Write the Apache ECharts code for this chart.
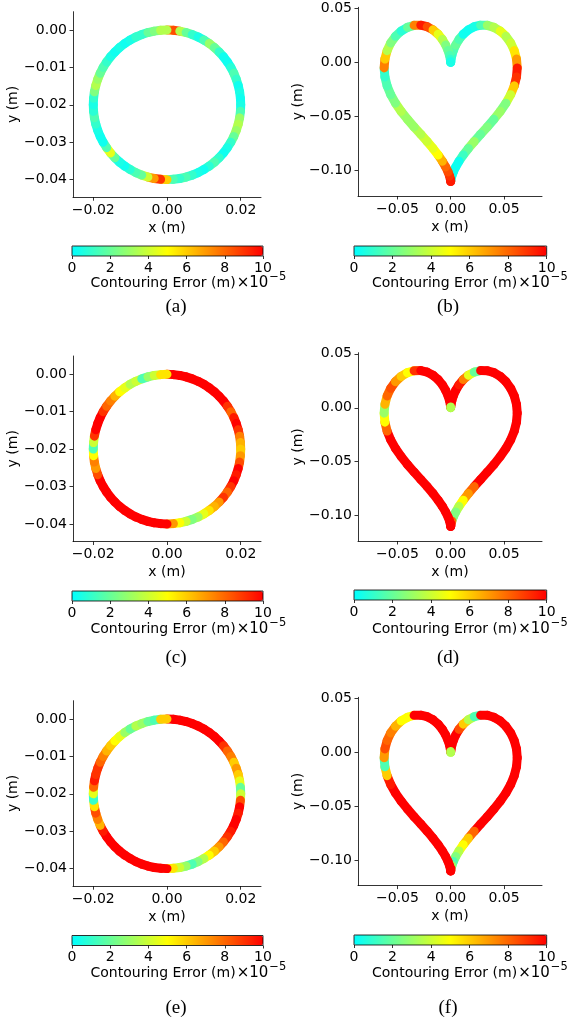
<!DOCTYPE html>
<html>
<head>
<meta charset="utf-8">
<script src="https://cdn.jsdelivr.net/npm/echarts@6/dist/echarts.min.js"></script>
<style>
html,body{margin:0;padding:0;background:#fff;}
#chart{width:573px;height:1023px;}
</style>
</head>
<body>
<div id="chart"></div>
<script>
// ---- trajectory data (m) ----
const circleX = [0, 0.00174, 0.00347, 0.00518, 0.00684, 0.00845, 0.01, 0.01147, 0.01286, 0.01414, 0.01532, 0.01638, 0.01732, 0.01813, 0.01879, 0.01932, 0.0197, 0.01992, 0.02,
  0.01992, 0.0197, 0.01932, 0.01879, 0.01813, 0.01732, 0.01638, 0.01532, 0.01414, 0.01286, 0.01147, 0.01, 0.00845, 0.00684, 0.00518, 0.00347, 0.00174, 0,
  -0.00174, -0.00347, -0.00518, -0.00684, -0.00845, -0.01, -0.01147, -0.01286, -0.01414, -0.01532, -0.01638, -0.01732, -0.01813, -0.01879, -0.01932, -0.0197, -0.01992, -0.02,
  -0.01992, -0.0197, -0.01932, -0.01879, -0.01813, -0.01732, -0.01638, -0.01532, -0.01414, -0.01286, -0.01147, -0.01, -0.00845, -0.00684, -0.00518, -0.00347, -0.00174];
const circleY = [0, -0.00008, -0.0003, -0.00068, -0.00121, -0.00187, -0.00268, -0.00362, -0.00468, -0.00586, -0.00714, -0.00853, -0.01, -0.01155, -0.01316, -0.01482, -0.01653, -0.01826, -0.02,
  -0.02174, -0.02347, -0.02518, -0.02684, -0.02845, -0.03, -0.03147, -0.03286, -0.03414, -0.03532, -0.03638, -0.03732, -0.03813, -0.03879, -0.03932, -0.0397, -0.03992, -0.04,
  -0.03992, -0.0397, -0.03932, -0.03879, -0.03813, -0.03732, -0.03638, -0.03532, -0.03414, -0.03286, -0.03147, -0.03, -0.02845, -0.02684, -0.02518, -0.02347, -0.02174, -0.02,
  -0.01826, -0.01653, -0.01482, -0.01316, -0.01155, -0.01, -0.00853, -0.00714, -0.00586, -0.00468, -0.00362, -0.00268, -0.00187, -0.00121, -0.00068, -0.0003, -0.00008];
const heartX = [0, 0.00004, 0.00033, 0.00108, 0.0025, 0.00471, 0.0078, 0.01178, 0.01657, 0.02206, 0.02805, 0.0343, 0.04053, 0.04645, 0.05178, 0.05623, 0.0596, 0.06169, 0.0624,
  0.06169, 0.0596, 0.05623, 0.05178, 0.04645, 0.04053, 0.0343, 0.02805, 0.02206, 0.01657, 0.01178, 0.0078, 0.00471, 0.0025, 0.00108, 0.00033, 0.00004, 0,
  -0.00004, -0.00033, -0.00108, -0.0025, -0.00471, -0.0078, -0.01178, -0.01657, -0.02206, -0.02805, -0.0343, -0.04053, -0.04645, -0.05178, -0.05623, -0.0596, -0.06169, -0.0624,
  -0.06169, -0.0596, -0.05623, -0.05178, -0.04645, -0.04053, -0.0343, -0.02805, -0.02206, -0.01657, -0.01178, -0.0078, -0.00471, -0.0025, -0.00108, -0.00033, -0.00004];
const heartY = [0, 0.00078, 0.00303, 0.00657, 0.01106, 0.01612, 0.02129, 0.02612, 0.03015, 0.03303, 0.03448, 0.03433, 0.0325, 0.02907, 0.02417, 0.01804, 0.01095, 0.00318, -0.005,
  -0.01334, -0.02162, -0.02974, -0.03761, -0.04519, -0.0525, -0.05957, -0.0664, -0.07303, -0.07943, -0.08556, -0.09129, -0.09652, -0.1011, -0.10487, -0.10768, -0.10942, -0.11,
  -0.10942, -0.10768, -0.10487, -0.1011, -0.09652, -0.09129, -0.08556, -0.07943, -0.07303, -0.0664, -0.05957, -0.0525, -0.04519, -0.03761, -0.02974, -0.02162, -0.01334, -0.005,
  0.00318, 0.01095, 0.01804, 0.02417, 0.02907, 0.0325, 0.03433, 0.03448, 0.03303, 0.03015, 0.02612, 0.02129, 0.01612, 0.01106, 0.00657, 0.00303, 0.00078];

// ---- contouring error (x1e-5 m) at each trajectory point ----
const errA = [7.5, 8.5, 3.5, 2, 1, 0.5, 1.5, 3, 2, 1,
  0.3, 0.3, 0.8, 1.5, 1, 0.3, 0.5, 0.3, 0.5, 1.5,
  3, 3.5, 3, 2, 1, 0.5, 0.3, 1, 1.5, 0.8,
  0.3, 0.5, 1, 1.5, 1, 1.5, 6, 9, 7, 4,
  2, 1.5, 0.8, 0.3, 0.5, 2, 4.5, 1.5, 0.3, 0.3,
  0.5, 1, 1.5, 0.8, 0.5, 1, 2.5, 3.5, 3, 2,
  1.5, 1, 0.5, 0.3, 0.5, 0.3, 0.5, 1, 1, 2,
  2.5, 3.5];
const errB = [0.3, 0.5, 0.5, 1, 1.5, 2, 1.5, 0.3, 0.3, 0.5,
  1.5, 3, 3.5, 4.5, 3.5, 4, 5.5, 7, 9.5, 9,
  6, 4, 2.5, 3, 2, 2.5, 2, 3, 2, 1.2,
  0.3, 0.3, 0.3, 0.3, 1, 9.5, 9.5, 9.5, 9.5, 9,
  8.5, 8, 6.5, 5, 4.5, 4, 3.5, 3, 3, 3.5,
  2.5, 2, 1.5, 1, 7.5, 6, 3.5, 2.5, 1.5, 0.8,
  2, 7.5, 9.5, 8.5, 6, 4.5, 3.5, 2.5, 2, 1.5,
  1, 0.5];
const errC = [10, 10, 10, 10, 10, 10, 10, 10, 10, 10,
  10, 9, 8, 9.5, 10, 9, 7.5, 6.5, 6, 7,
  8.5, 10, 9.5, 10, 9, 8, 9, 7, 6.5, 5.5,
  4.5, 3, 2.5, 4, 5, 7, 10, 10, 10, 10,
  10, 10, 10, 10, 10, 10, 10, 10, 10, 10,
  8.5, 7, 7.5, 5, 1.5, 4, 9, 10, 10, 10,
  9, 8, 7.5, 6.5, 5, 4.5, 3.5, 4, 1.5, 3,
  4, 5.5];
const errD = [3.5, 10, 10, 10, 10, 10, 9.5, 7.5, 4.5, 2,
  10, 10, 10, 10, 10, 10, 10, 10, 10, 10,
  10, 10, 10, 10, 10, 10, 10, 8, 7, 5,
  3.5, 2.5, 2.5, 8, 10, 10, 10, 10, 10, 10,
  10, 10, 10, 10, 10, 10, 10, 10, 10, 10,
  10, 10, 8, 5, 3, 6.5, 8, 8.5, 7, 6,
  5, 9, 10, 10, 10, 10, 10, 10, 10, 10,
  10, 3.5];
const errE = [10, 10, 10, 10, 10, 10, 10, 10, 10, 10,
  9, 8, 7.5, 6, 7, 6, 4.5, 2, 4, 8.5,
  10, 9.5, 10, 10, 9.5, 9, 8, 7, 6, 5,
  3.5, 2.5, 1.5, 3, 4, 5.5, 10, 10, 10, 10,
  10, 10, 10, 10, 10, 10, 10, 10, 9.5, 6.5,
  7.5, 8.5, 5.5, 1, 4.5, 8, 9.5, 9, 9, 8,
  7.5, 6.5, 6, 5, 4.5, 3, 2, 3.5, 3, 2,
  1.5, 6];
const errF = [3.5, 10, 10, 10, 10, 10, 8.5, 6, 3.5, 1.5,
  10, 10, 10, 10, 10, 10, 10, 10, 10, 10,
  10, 10, 10, 10, 10, 10, 10, 8, 6, 5,
  3.5, 2.5, 1.5, 3, 10, 10, 10, 10, 10, 10,
  10, 10, 10, 10, 10, 10, 10, 10, 10, 10,
  10, 9.5, 6, 1.5, 7, 8.5, 8, 7.5, 6.5, 5,
  5, 10, 10, 10, 10, 10, 10, 10, 10, 10,
  10, 3.5];

// ---- tick labels and texts ----
const circleXTicks = [-0.02, 0, 0.02];
const circleYTicks = [0, -0.01, -0.02, -0.03, -0.04];
const heartXTicks = [-0.05, 0, 0.05];
const heartYTicks = [0.05, 0, -0.05, -0.1];
const cbarMin = 0, cbarMax = 10, cbarStep = 2;
const captions = ['(a)', '(b)', '(c)', '(d)', '(e)', '(f)'];
const cbarName = 'Contouring Error (m)';
const cbarScale = '\u00d710';
const cbarExp = '\u22125';
const colormap = ['#00ffff', '#ffff00', '#ff0000'];

// ---- layout ----
const FONT = 'DejaVu Sans';
const circleRange = {x: [-0.0255, 0.0255], y: [-0.0447, 0.0049]};
const heartRange = {x: [-0.0869, 0.0856], y: [-0.1234, 0.051]};
const panels = [
  {shape: 'circle', err: errA, plot: {left: 73, top: 11.7, width: 188, height: 185.5}, cbar: {left: 72, top: 246, width: 191}, lab: {x: 90.5, y: 283}, cap: {x: 176, y: 307}},
  {shape: 'heart', err: errB, plot: {left: 358, top: 7.3, width: 184, height: 188.7}, cbar: {left: 354, top: 246, width: 192.7}, lab: {x: 372, y: 283}, cap: {x: 448, y: 307}},
  {shape: 'circle', err: errC, plot: {left: 73, top: 356, width: 188, height: 185.5}, cbar: {left: 72, top: 591, width: 191}, lab: {x: 90.5, y: 629}, cap: {x: 176, y: 658}},
  {shape: 'heart', err: errD, plot: {left: 358, top: 352.7, width: 184, height: 188.3}, cbar: {left: 354, top: 590, width: 192.7}, lab: {x: 372, y: 629}, cap: {x: 448, y: 658}},
  {shape: 'circle', err: errE, plot: {left: 73, top: 700.7, width: 188, height: 185.5}, cbar: {left: 72, top: 935.5, width: 191}, lab: {x: 90.5, y: 973}, cap: {x: 176, y: 1008}},
  {shape: 'heart', err: errF, plot: {left: 358, top: 697.3, width: 184, height: 188.3}, cbar: {left: 354, top: 935, width: 192.7}, lab: {x: 372, y: 973}, cap: {x: 448, y: 1008}}
];

function fmt(v) {
  const s = Math.abs(v).toFixed(2);
  return (v < -1e-9 ? '\u2212' : '') + s;
}
function buildSegments(xs, ys, errs) {
  return xs.map(function (x, i) {
    const j = (i + 1) % xs.length;
    return [x, ys[i], errs[i], xs[j], ys[j]];
  });
}
function renderSeg(params, api) {
  const p0 = api.coord([api.value(0), api.value(1)]);
  const p1 = api.coord([api.value(3), api.value(4)]);
  return {
    type: 'line',
    shape: {x1: p0[0], y1: p0[1], x2: p1[0], y2: p1[1]},
    style: {stroke: api.visual('color'), lineWidth: 9, lineCap: 'round'}
  };
}

const lineStyle = {color: '#000', width: 0.8};
const option = {animation: false, grid: [], xAxis: [], yAxis: [], series: [], visualMap: [], graphic: []};

panels.forEach(function (p, i) {
  const isC = p.shape === 'circle';
  const rng = isC ? circleRange : heartRange;
  const xt = isC ? circleXTicks : heartXTicks;
  const yt = isC ? circleYTicks : heartYTicks;
  const g = 2 * i, cg = 2 * i + 1;
  option.grid.push({left: p.plot.left, top: p.plot.top, width: p.plot.width, height: p.plot.height});
  option.grid.push({left: p.cbar.left, top: p.cbar.top, width: p.cbar.width, height: 10, show: true,
    borderColor: '#000', borderWidth: 0.8, backgroundColor: 'transparent', z: 10});
  option.xAxis.push({
    gridIndex: g, type: 'value', min: rng.x[0], max: rng.x[1],
    name: 'x (m)', nameLocation: 'middle', nameGap: 24,
    nameTextStyle: {fontSize: 14, color: '#000', fontFamily: FONT},
    axisLine: {onZero: false, lineStyle: lineStyle},
    axisTick: {show: true, length: 3.5, customValues: xt, lineStyle: lineStyle},
    axisLabel: {customValues: xt, formatter: fmt, fontSize: 14, color: '#000', margin: 6, fontFamily: FONT},
    splitLine: {show: false}
  });
  option.yAxis.push({
    gridIndex: g, type: 'value', min: rng.y[0], max: rng.y[1],
    name: 'y (m)', nameLocation: 'middle', nameGap: isC ? 49 : 48,
    nameTextStyle: {fontSize: 14, color: '#000', fontFamily: FONT},
    axisLine: {onZero: false, lineStyle: lineStyle},
    axisTick: {show: true, length: 3.5, customValues: yt, lineStyle: lineStyle},
    axisLabel: {customValues: yt, formatter: fmt, fontSize: 14, color: '#000', margin: 6, fontFamily: FONT},
    splitLine: {show: false}
  });
  option.xAxis.push({
    gridIndex: cg, type: 'value', min: cbarMin, max: cbarMax, interval: cbarStep,
    axisLine: {show: false},
    axisTick: {show: true, length: 3, lineStyle: lineStyle},
    axisLabel: {fontSize: 14, color: '#000', margin: 5, fontFamily: FONT},
    splitLine: {show: false}
  });
  option.yAxis.push({gridIndex: cg, type: 'value', show: false, min: 0, max: 1});
  option.series.push({
    type: 'custom', coordinateSystem: 'cartesian2d', xAxisIndex: g, yAxisIndex: g,
    renderItem: renderSeg,
    data: buildSegments(isC ? circleX : heartX, isC ? circleY : heartY, p.err)
  });
  option.visualMap.push({
    type: 'continuous', seriesIndex: i, dimension: 2, min: cbarMin, max: cbarMax,
    inRange: {color: colormap}, orient: 'horizontal', left: p.cbar.left, top: p.cbar.top,
    itemWidth: 10, itemHeight: p.cbar.width, calculable: false, padding: 0, hoverLink: false, z: 4
  });
  option.graphic.push({
    type: 'text', x: p.lab.x, y: p.lab.y,
    style: {
      text: '{n|' + cbarName + '}{m|' + cbarScale + '}{s|' + cbarExp + '}',
      verticalAlign: 'middle', fill: '#000',
      rich: {
        n: {fontSize: 14, fontFamily: FONT, fill: '#000'},
        m: {fontSize: 15, fontFamily: FONT, fill: '#000', padding: [0, 0, 0, 1]},
        s: {fontSize: 11.5, fontFamily: FONT, fill: '#000', padding: [0, 0, 12, 1]}
      }
    }
  });
  option.graphic.push({
    type: 'text', x: p.cap.x, y: p.cap.y,
    style: {text: captions[i], fontSize: 19, fontFamily: 'Liberation Serif', fill: '#000', align: 'center', verticalAlign: 'middle'}
  });
});

const chart = echarts.init(document.getElementById('chart'), null, {renderer: 'canvas'});
chart.setOption(option);
</script>
</body>
</html>
